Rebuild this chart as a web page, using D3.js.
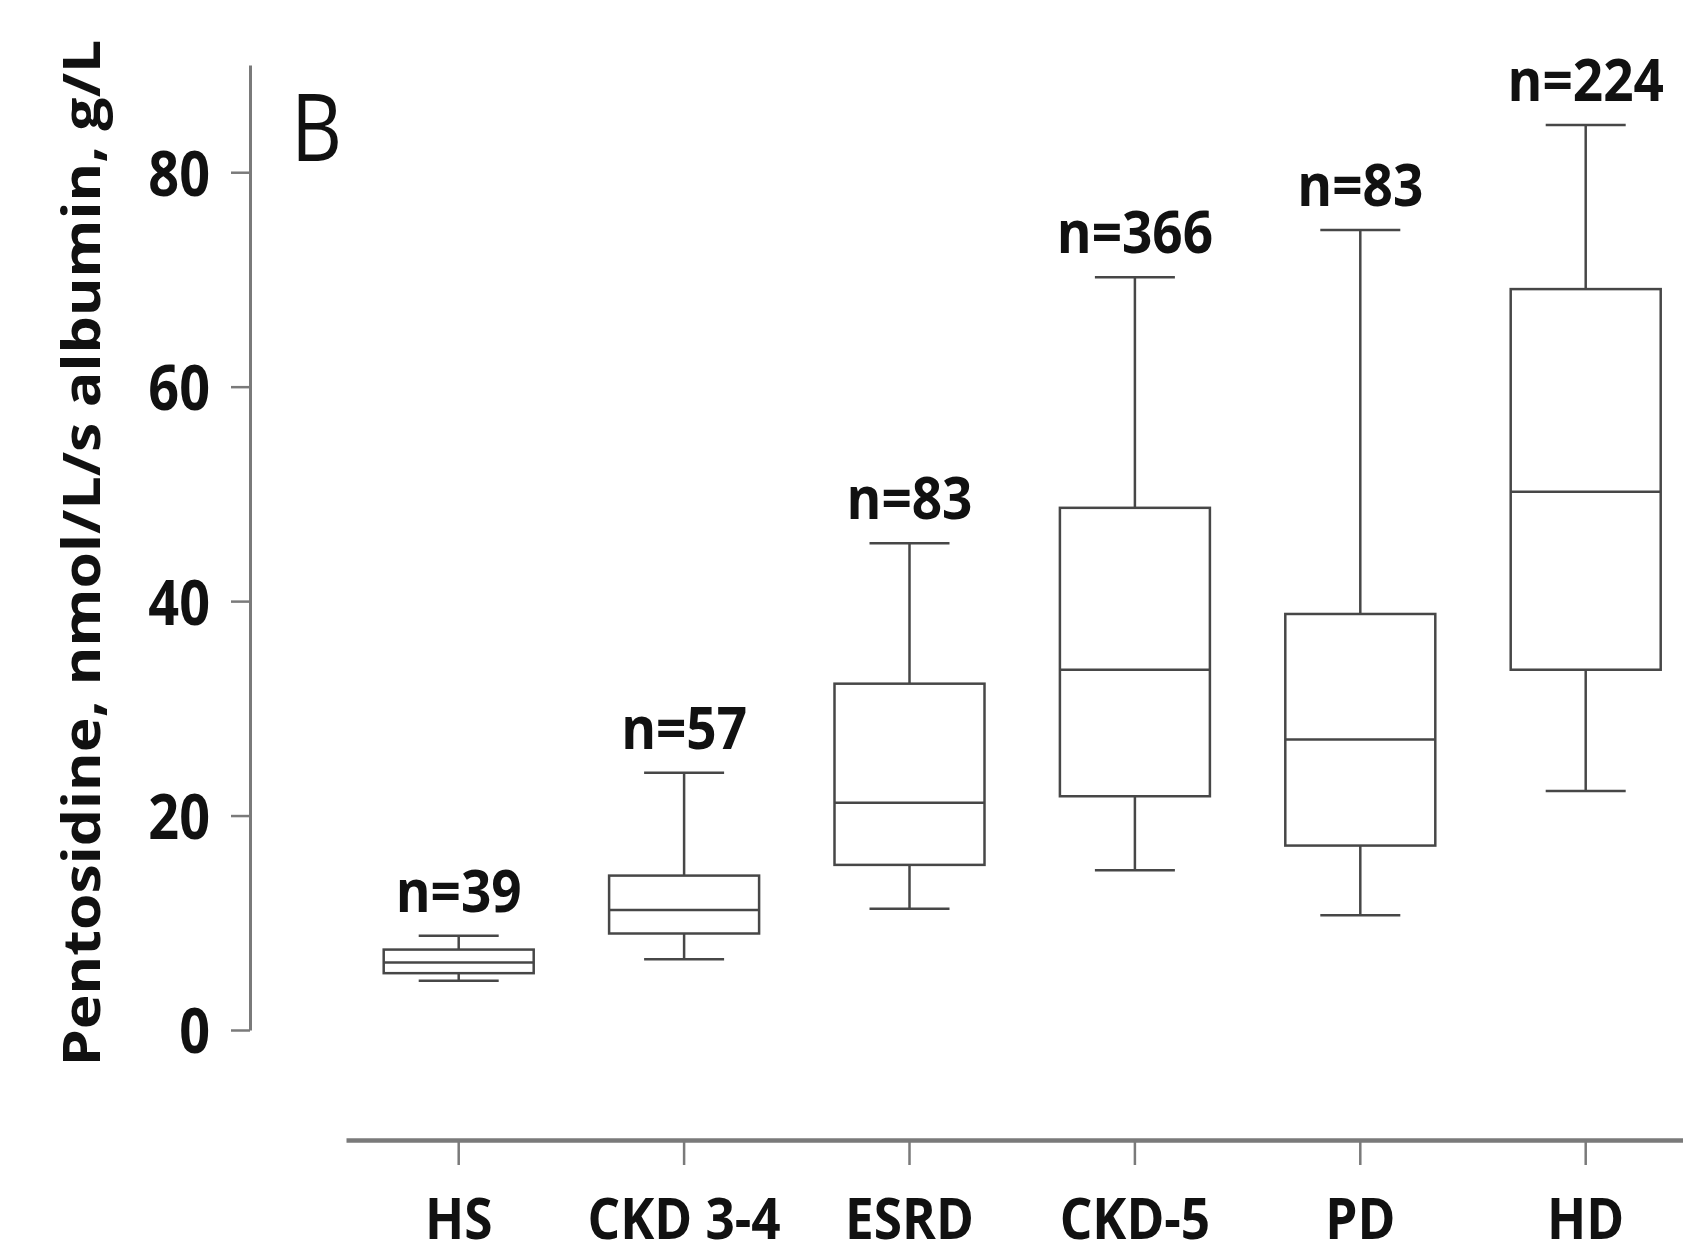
<!DOCTYPE html>
<html>
<head>
<meta charset="utf-8">
<script src="https://cdn.jsdelivr.net/npm/d3@7"></script>
<style>
  body { margin: 0; background: #fff; }
  svg { display: block; }
  text { font-family: "Open Sans", "DejaVu Sans", sans-serif; }
</style>
</head>
<body>
<div id="chart"></div>
<script>
// groups and box statistics
const groups = ["HS", "CKD 3-4", "ESRD", "CKD-5", "PD", "HD"];
const counts = [39, 57, 83, 366, 83, 224];
const whiskerLow = [4.6, 6.6, 11.3, 14.9, 10.7, 22.3];
const q1 = [5.3, 9.0, 15.4, 21.8, 17.2, 33.6];
const median = [6.3, 11.2, 21.2, 33.6, 27.1, 50.2];
const q3 = [7.5, 14.4, 32.3, 48.7, 38.8, 69.1];
const whiskerHigh = [8.8, 24.0, 45.4, 70.2, 74.6, 84.4];
const yTicks = [0, 20, 40, 60, 80];

const width = 1683, height = 1255;
const squeeze = 0.88; // the original figure's text is narrow and tall

const svg = d3.select("#chart").append("svg")
    .attr("width", width)
    .attr("height", height);

const boxes = groups.map((g, i) => ({
    group: g, n: counts[i],
    low: whiskerLow[i], q1: q1[i], median: median[i], q3: q3[i], high: whiskerHigh[i]
}));

// move x/y into a transform so the text can be narrowed in place
function narrow(sel, k) {
    sel.each(function() {
        const t = d3.select(this);
        const x = +t.attr("x") || 0, y = +t.attr("y") || 0;
        t.attr("x", 0).attr("y", 0)
         .attr("transform", `translate(${x},${y}) scale(${k},1)`);
    });
}

// scales
const yScale = d3.scaleLinear()
    .domain([0, 90])
    .range([1030, 65]);

const xScale = d3.scaleBand()
    .domain(groups)
    .range([346, 346 + 6 * 225.4]);

const boxW = 150, capW = 80;
const lineColor = "#474747";

// y axis
const yAxis = svg.append("g")
    .attr("transform", "translate(250,0)")
    .call(d3.axisLeft(yScale).tickValues(yTicks).tickSize(19).tickSizeOuter(0).tickPadding(21));
yAxis.select(".domain").attr("stroke", "#7a7a7a").attr("stroke-width", 3);
yAxis.selectAll(".tick line").attr("stroke", "#7a7a7a").attr("stroke-width", 2.5);
yAxis.selectAll(".tick text")
    .attr("fill", "#111")
    .style("font-size", "62px")
    .style("font-weight", "bold")
    .attr("dy", "0.37em")
    .call(narrow, 0.87);

// x axis
const xAxis = svg.append("g")
    .attr("transform", "translate(0,1140)")
    .call(d3.axisBottom(xScale).tickSize(25).tickSizeOuter(0).tickPadding(34));
xAxis.select(".domain").attr("stroke", "#7a7a7a").attr("stroke-width", 4.5);
xAxis.selectAll(".tick line").attr("stroke", "#7a7a7a").attr("stroke-width", 2.5);
xAxis.selectAll(".tick text")
    .attr("fill", "#111")
    .style("font-size", "57px")
    .style("font-weight", "bold")
    .call(narrow, 0.9);

// y axis title
svg.append("text")
    .attr("transform", `translate(100,${(38 + 1068) / 2}) rotate(-90) scale(1,${squeeze})`)
    .attr("text-anchor", "middle")
    .attr("fill", "#111")
    .style("font-size", "59px")
    .style("font-weight", "bold")
    .text("Pentosidine, nmol/L/s albumin, g/L");

// panel letter
svg.append("text")
    .attr("x", 291)
    .attr("y", 161)
    .attr("fill", "#111")
    .style("font-size", "93px")
    .text("B")
    .call(narrow, 0.85);

// box plots
const gBox = svg.selectAll(".box")
    .data(boxes)
    .enter().append("g")
    .attr("class", "box")
    .attr("transform", d => `translate(${xScale(d.group) + xScale.bandwidth() / 2},0)`);

gBox.each(function(d) {
    const g = d3.select(this);

    // whiskers
    g.append("line")
        .attr("x1", 0).attr("x2", 0)
        .attr("y1", yScale(d.high)).attr("y2", yScale(d.q3))
        .attr("stroke", lineColor).attr("stroke-width", 2.5);
    g.append("line")
        .attr("x1", 0).attr("x2", 0)
        .attr("y1", yScale(d.q1)).attr("y2", yScale(d.low))
        .attr("stroke", lineColor).attr("stroke-width", 2.5);

    // caps
    [d.high, d.low].forEach(v => {
        g.append("line")
            .attr("x1", -capW / 2).attr("x2", capW / 2)
            .attr("y1", yScale(v)).attr("y2", yScale(v))
            .attr("stroke", lineColor).attr("stroke-width", 2.5);
    });

    // box
    g.append("rect")
        .attr("x", -boxW / 2)
        .attr("y", yScale(d.q3))
        .attr("width", boxW)
        .attr("height", yScale(d.q1) - yScale(d.q3))
        .attr("fill", "none")
        .attr("stroke", lineColor)
        .attr("stroke-width", 2.5);

    // median
    g.append("line")
        .attr("x1", -boxW / 2).attr("x2", boxW / 2)
        .attr("y1", yScale(d.median)).attr("y2", yScale(d.median))
        .attr("stroke", lineColor).attr("stroke-width", 2.5);

    // n label
    g.append("text")
        .attr("x", 0)
        .attr("y", yScale(d.high) - 24)
        .attr("text-anchor", "middle")
        .attr("fill", "#111")
        .style("font-size", "59px")
        .style("font-weight", "bold")
        .text("n=" + d.n)
        .call(narrow, 0.9);
});
</script>
</body>
</html>
